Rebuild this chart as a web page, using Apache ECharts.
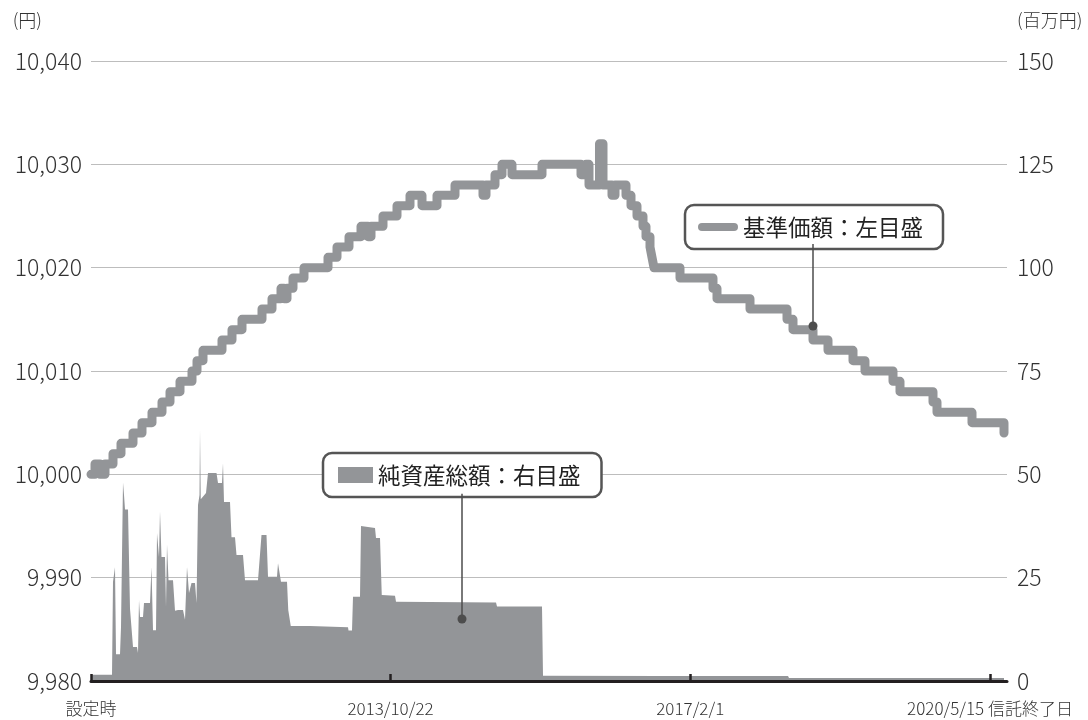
<!DOCTYPE html>
<html><head><meta charset="utf-8">
<script src="https://cdn.jsdelivr.net/npm/echarts@6/dist/echarts.min.js"></script>
<style>html,body{margin:0;padding:0;background:#fff}#c{width:1088px;height:720px}</style>
</head><body><div id="c"></div>
<script>
// x = 経過日数 (days since 設定日)
const tickDays = [0, 1198, 2397, 3596];
const tickLabels = ['設定時', '2013/10/22', '2017/2/1', '2020/5/15 信託終了日'];

// 基準価額 (円) change points
const priceDays = [0,16,36,56,88,120,168,204,244,284,316,356,404,424,448,524,564,604,684,724,760,772,784,808,852,948,984,1032,1080,1108,1120,1168,1224,1276,1324,1384,1456,1568,1580,1616,1644,1684,1804,1960,1980,1992,2034,2048,2084,2096,2140,2160,2184,2208,2220,2236,2244,2252,2356,2488,2504,2636,2784,2808,2888,2948,3048,3096,3208,3236,3368,3384,3524,3652];
const priceValues = [10000,10001,10000,10001,10002,10003,10004,10005,10006,10007,10008,10009,10010,10011,10012,10013,10014,10015,10016,10017,10018,10017,10018,10019,10020,10021,10022,10023,10024,10023,10024,10025,10026,10027,10026,10027,10028,10027,10028,10029,10030,10029,10030,10029,10030,10028,10032,10028,10027,10028,10027,10026,10025,10024,10023,10022,10021,10020,10019,10018,10017,10016,10015,10014,10013,10012,10011,10010,10009,10008,10007,10006,10005,10004];

// 純資産総額 (百万円)
const navDays = [0,84,88,96,100,116,120,128,132,136,148,156,164,168,184,188,192,196,208,212,236,242,248,260,264,272,276,282,296,300,304,310,328,336,348,368,376,384,392,402,416,422,428,434,436,439,460,468,502,508,524,528,532,556,562,576,582,608,616,668,676,682,702,708,744,748,756,760,784,789,799,876,880,1028,1030,1044,1048,1076,1080,1136,1140,1156,1163,1216,1220,1620,1624,1804,1808,2276,2788,2792,3652];
const navValues = [1.5,1.5,24,27.5,6.5,6.5,13,48,45,41.5,41.5,17.5,17.5,8.2,8.2,6.8,19.6,15.5,15.5,18.9,18.9,27.6,12.3,12.3,35.8,30,41,30,30,17.9,33,24.4,24.4,17,17.2,17.2,14.8,27.6,21.3,23.7,23.7,18.9,42.6,45,60.7,44,45.5,50.3,50.3,47.9,47.9,52.7,43.3,43.3,34.8,34.8,30.5,30.5,24.4,24.4,24.6,35.3,35.3,25.2,25.2,28.5,28.5,24,24,17.2,13.3,13.3,13,13,12.2,12.2,20.4,20.4,37.5,37,34.6,34.6,20.8,20.6,19.2,19,18,18,1.3,1.2,1.2,0.7,0.7];

const priceName = '基準価額：左目盛';
const navName = '純資産総額：右目盛';

const FONT = "'Noto Sans CJK JP', 'Noto Sans', sans-serif";
const GRAY = '#939598';
const TEXT = '#333333';
const DARK = '#231f20';

const chart = echarts.init(document.getElementById('c'), null, {renderer: 'canvas'});
chart.setOption({
  animation: false,
  textStyle: {fontFamily: FONT},
  grid: {left: 91, right: 81, top: 61, bottom: 39},
  legend: [
    {
      data: [{name: priceName, icon: 'path://M4 0H36A4 4 0 0 1 36 8H4A4 4 0 0 1 4 0Z'}],
      left: 685, top: 205,
      itemWidth: 40, itemHeight: 8,
      padding: [10, 20, 10, 13],
      borderColor: '#555', borderWidth: 2.5, borderRadius: 9,
      backgroundColor: '#fff',
      selectedMode: false,
      itemStyle: {color: GRAY, borderWidth: 0},
      textStyle: {fontSize: 22.5, color: '#222', lineHeight: 24, fontFamily: FONT, fontWeight: 'normal'}
    },
    {
      data: [{name: navName, icon: 'rect'}],
      left: 323, top: 453,
      itemWidth: 35, itemHeight: 16,
      padding: [10, 21, 10, 15],
      borderColor: '#555', borderWidth: 2.5, borderRadius: 9,
      backgroundColor: '#fff',
      selectedMode: false,
      itemStyle: {color: GRAY, borderWidth: 0},
      textStyle: {fontSize: 22.5, color: '#222', lineHeight: 24, fontFamily: FONT, fontWeight: 'normal'}
    }
  ],
  xAxis: {
    type: 'value', min: 0, max: 3664, z: 5,
    splitLine: {show: false},
    axisLine: {onZero: false, lineStyle: {color: DARK, width: 3}},
    axisTick: {inside: true, length: 7, customValues: tickDays, lineStyle: {color: DARK, width: 2.5}},
    axisLabel: {
      customValues: tickDays,
      formatter: v => tickLabels[tickDays.indexOf(v)] || '',
      fontSize: 17, color: TEXT, margin: 19, fontFamily: FONT, fontWeight: 300
    }
  },
  yAxis: [
    {
      type: 'value', min: 9980, max: 10040, interval: 10,
      name: '(円)', nameLocation: 'end', nameGap: 41,
      nameTextStyle: {fontSize: 18, color: TEXT, align: 'right', verticalAlign: 'middle', padding: [0, 49, 0, 0], fontFamily: FONT, fontWeight: 300},
      axisLine: {show: false}, axisTick: {show: false},
      splitLine: {lineStyle: {color: '#bdbdbd', width: 1}},
      axisLabel: {fontSize: 23, color: TEXT, margin: 9, fontFamily: FONT, fontWeight: 300,
        formatter: v => v.toLocaleString('en-US')}
    },
    {
      type: 'value', min: 0, max: 150, interval: 25,
      name: '(百万円)', nameLocation: 'end', nameGap: 41,
      nameTextStyle: {fontSize: 18, color: TEXT, align: 'left', verticalAlign: 'middle', padding: [0, 0, 0, 10], fontFamily: FONT, fontWeight: 300},
      axisLine: {show: false}, axisTick: {show: false},
      splitLine: {show: false},
      axisLabel: {fontSize: 23, color: TEXT, margin: 10, fontFamily: FONT, fontWeight: 300}
    }
  ],
  series: [
    {
      name: navName, type: 'line', yAxisIndex: 1,
      data: navDays.map((d, i) => [d, navValues[i]]),
      symbol: 'none', z: 2,
      itemStyle: {color: GRAY},
      lineStyle: {width: 0, color: GRAY},
      areaStyle: {color: GRAY, opacity: 1},
      markLine: {
        silent: true, symbol: ['none', 'circle'], symbolSize: 9,
        label: {show: false},
        lineStyle: {color: '#4d4d4d', width: 1.5, type: 'solid'},
        emphasis: {disabled: true},
        data: [[{coord: [1484, 45.3]}, {coord: [1484, 15.0]}]]
      }
    },
    {
      name: priceName, type: 'line', yAxisIndex: 0,
      data: priceDays.map((d, i) => [d, priceValues[i]]),
      step: 'end', symbol: 'none', z: 3,
      itemStyle: {color: GRAY},
      lineStyle: {width: 9, color: GRAY, cap: 'round', join: 'round'},
      markLine: {
        silent: true, symbol: ['none', 'circle'], symbolSize: 9,
        label: {show: false},
        lineStyle: {color: '#4d4d4d', width: 1.5, type: 'solid'},
        emphasis: {disabled: true},
        data: [[{coord: [2888, 10022.3]}, {coord: [2888, 10014.35]}]]
      }
    }
  ]
});
</script>
</body></html>
